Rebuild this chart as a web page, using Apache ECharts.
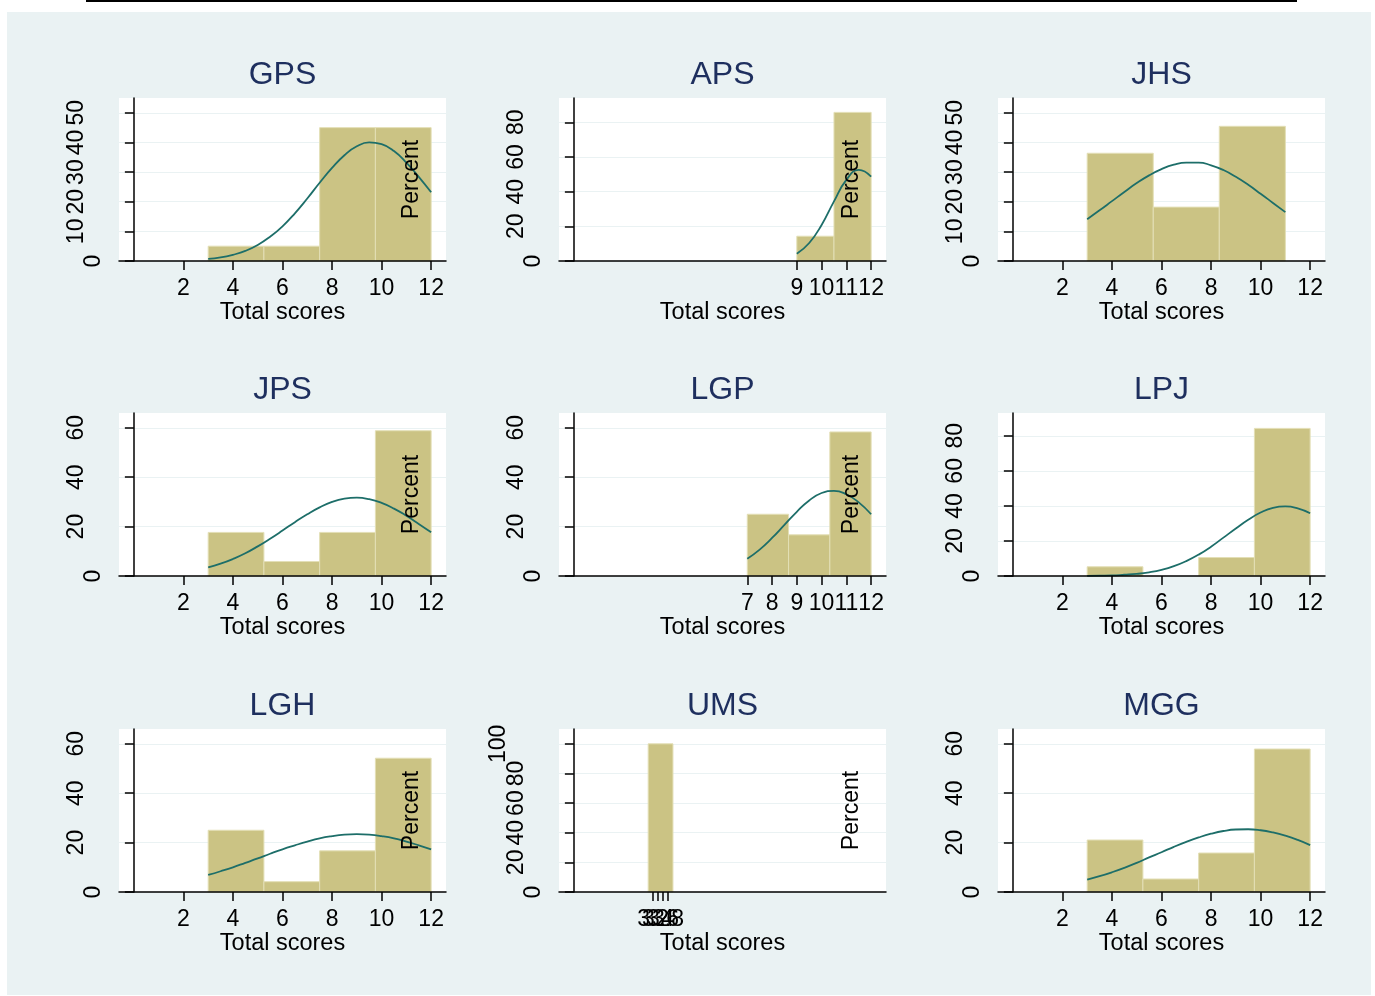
<!DOCTYPE html>
<html>
<head>
<meta charset="utf-8">
<title>Total scores by group</title>
<script src="https://cdn.jsdelivr.net/npm/echarts@6/dist/echarts.min.js"></script>
<style>
  html, body { margin: 0; padding: 0; background: #fff; }
  #chart { width: 1375px; height: 996px; }
</style>
</head>
<body>
<div id="chart"></div>
<script>
// panel names, in reading order
const panelNames = ['GPS', 'APS', 'JHS', 'JPS', 'LGP', 'LPJ', 'LGH', 'UMS', 'MGG'];

// histogram bin edges and percent per bin
const binEdges = [
  [3, 5.25, 7.5, 9.75, 12],
  [9, 10.5, 12],
  [3, 5.667, 8.333, 11],
  [3, 5.25, 7.5, 9.75, 12],
  [7, 8.667, 10.333, 12],
  [3, 5.25, 7.5, 9.75, 12],
  [3, 5.25, 7.5, 9.75, 12],
  [3, 4],
  [3, 5.25, 7.5, 9.75, 12]
];
const binPercent = [
  [5, 5, 45, 45],
  [14.29, 85.71],
  [36.36, 18.18, 45.45],
  [17.65, 5.88, 17.65, 58.82],
  [25, 16.67, 58.33],
  [5.26, 0, 10.53, 84.21],
  [25, 4.17, 16.67, 54.17],
  [100],
  [21.05, 5.26, 15.79, 57.89]
];

// normal curve overlay (UMS has none)
const xHalf3to12 = [3, 3.5, 4, 4.5, 5, 5.5, 6, 6.5, 7, 7.5, 8, 8.5, 9, 9.5, 10, 10.5, 11, 11.5, 12];
const curveX = [
  xHalf3to12,
  [9, 9.5, 10, 10.5, 11, 11.5, 12],
  [3, 3.5, 4, 4.5, 5, 5.5, 6, 6.5, 7, 7.5, 8, 8.5, 9, 9.5, 10, 10.5, 11],
  xHalf3to12,
  [7, 7.5, 8, 8.5, 9, 9.5, 10, 10.5, 11, 11.5, 12],
  xHalf3to12,
  xHalf3to12,
  [],
  xHalf3to12
];
const curveY = [
  [0.7, 1.2, 2.1, 3.4, 5.4, 8.2, 11.7, 16.1, 21.1, 26.4, 31.4, 35.7, 38.7, 40, 39.4, 37.1, 33.2, 28.4, 23.2],
  [4.2, 10.4, 20.8, 34.4, 46.8, 52.5, 48.6],
  [14.1, 17.1, 20.2, 23.3, 26.3, 28.9, 31, 32.5, 33.2, 33.2, 32.3, 30.7, 28.4, 25.7, 22.7, 19.6, 16.5],
  [3.5, 5, 6.9, 9.2, 12, 15.1, 18.4, 21.8, 25, 27.8, 30, 31.3, 31.7, 31.1, 29.6, 27.3, 24.4, 21.1, 17.7],
  [7, 10.7, 15.4, 20.7, 26, 30.6, 33.6, 34.5, 33.1, 29.8, 25],
  [0.1, 0.2, 0.3, 0.7, 1.2, 2.1, 3.5, 5.6, 8.5, 12.2, 16.7, 21.9, 27.1, 32.1, 36.2, 38.9, 39.7, 38.6, 35.8],
  [6.9, 8.4, 10, 11.8, 13.6, 15.5, 17.3, 18.9, 20.4, 21.7, 22.6, 23.2, 23.4, 23.2, 22.6, 21.7, 20.4, 18.9, 17.3],
  [],
  [5, 6.4, 8, 9.8, 11.8, 14, 16.1, 18.3, 20.3, 22.1, 23.6, 24.7, 25.3, 25.4, 25, 24.1, 22.8, 21.1, 19]
];

// axis ticks
const xTicks = [
  [2, 4, 6, 8, 10, 12],
  [9, 10, 11, 12],
  [2, 4, 6, 8, 10, 12],
  [2, 4, 6, 8, 10, 12],
  [7, 8, 9, 10, 11, 12],
  [2, 4, 6, 8, 10, 12],
  [2, 4, 6, 8, 10, 12],
  [3, 3.2, 3.4, 3.6, 3.8, 4],
  [2, 4, 6, 8, 10, 12]
];
const yTicks = [
  [0, 10, 20, 30, 40, 50],
  [0, 20, 40, 60, 80],
  [0, 10, 20, 30, 40, 50],
  [0, 20, 40, 60],
  [0, 20, 40, 60],
  [0, 20, 40, 60, 80],
  [0, 20, 40, 60],
  [0, 20, 40, 60, 80, 100],
  [0, 20, 40, 60]
];
const yMax = [55, 94, 55, 66, 66, 93, 66, 110, 66];
const xMin = -0.6, xMax = 12.6;

const font = "'Liberation Sans', Arial, Helvetica, sans-serif";
const colLeft = [119, 559, 998];
const rowTop = [98, 413, 729];
const plotW = 327, plotH = 163;
const barColor = '#cbc384';
const barEdge = '#e3dfb6';
const curveColor = '#1d6e69';
const axisStyle = { color: '#000', width: 1.5 };

const chart = echarts.init(document.getElementById('chart'));

const grids = [], xAxes = [], yAxes = [], extraY = [], series = [];
const graphics = [
  { type: 'rect', z: -100, silent: true, shape: { x: 7, y: 12, width: 1364, height: 983 }, style: { fill: '#eaf2f3' } },
  { type: 'line', silent: true, shape: { x1: 86, y1: 1, x2: 1297, y2: 1 }, style: { stroke: '#000', lineWidth: 2 } }
];

// Stata pushes longer rotated labels further from the axis
const digitRich = {
  d1: { fontSize: 23, fontFamily: font, color: '#000' },
  d2: { fontSize: 23, fontFamily: font, color: '#000', padding: [0, 0, 17, 0] },
  d3: { fontSize: 23, fontFamily: font, color: '#000', padding: [0, 0, 35, 0] }
};
function yLabel(values) {
  return {
    customValues: values, rotate: 90, margin: 14, hideOverlap: false,
    fontSize: 23, fontFamily: font, color: '#000',
    formatter: function (v) { const s = String(v); return '{d' + s.length + '|' + s + '}'; },
    rich: digitRich
  };
}

panelNames.forEach(function (name, i) {
  const c = i % 3, r = Math.floor(i / 3);
  const left = colLeft[c], top = rowTop[r];

  grids.push({ left: left, top: top, width: plotW, height: plotH, show: true, backgroundColor: '#fff', borderWidth: 0 });

  xAxes.push({
    type: 'value', gridIndex: i, min: xMin, max: xMax, z: 5,
    axisLine: { show: true, onZero: false, lineStyle: axisStyle },
    axisTick: { show: true, length: 9, customValues: xTicks[i], lineStyle: axisStyle },
    axisLabel: { customValues: xTicks[i], fontSize: 23, fontFamily: font, color: '#000', margin: 16, hideOverlap: false },
    splitLine: { show: false },
    name: 'Total scores', nameLocation: 'middle', nameGap: 39,
    nameTextStyle: { fontSize: 23.5, fontFamily: font, color: '#000' }
  });

  // a 3-digit top label would be dropped as overlapping, so it goes on its own axis
  const ticks = yTicks[i];
  const longLabels = ticks.filter(function (v) { return String(v).length > 2; });
  const mainLabels = ticks.filter(function (v) { return String(v).length <= 2; });

  yAxes.push({
    type: 'value', gridIndex: i, min: 0, max: yMax[i],
    axisLine: { show: true, lineStyle: axisStyle },
    axisTick: { show: true, length: 9, customValues: ticks, lineStyle: axisStyle },
    axisLabel: yLabel(mainLabels),
    splitLine: { show: true, lineStyle: { color: '#eaf2f3', width: 1 } }
  });
  if (longLabels.length) {
    extraY.push({
      type: 'value', gridIndex: i, position: 'left', min: 0, max: yMax[i],
      axisLine: { show: false }, axisTick: { show: false }, splitLine: { show: false },
      axisLabel: yLabel(longLabels)
    });
  }

  const bins = [];
  binPercent[i].forEach(function (p, k) {
    if (p > 0) bins.push([binEdges[i][k], binEdges[i][k + 1], p]);
  });
  series.push({
    type: 'custom', xAxisIndex: i, yAxisIndex: i, z: 2, silent: true,
    data: bins,
    encode: { x: [0, 1], y: 2 },
    renderItem: function (params, api) {
      const p0 = api.coord([api.value(0), 0]);
      const p1 = api.coord([api.value(1), api.value(2)]);
      return {
        type: 'rect',
        shape: { x: p0[0], y: p1[1], width: p1[0] - p0[0], height: p0[1] - p1[1] },
        style: { fill: barColor, stroke: barEdge, lineWidth: 1 }
      };
    }
  });

  if (curveX[i].length) {
    series.push({
      type: 'line', xAxisIndex: i, yAxisIndex: i, z: 4, silent: true,
      data: curveX[i].map(function (x, k) { return [x, curveY[i][k]]; }),
      smooth: true, symbol: 'none',
      lineStyle: { color: curveColor, width: 1.8 }
    });
  }

  graphics.push({
    type: 'text', x: left + plotW / 2, y: top - 23, silent: true,
    style: { text: name, fontSize: 32, fontFamily: font, fill: '#1e2f5e',
      align: 'center', verticalAlign: 'middle', textAlign: 'center', textVerticalAlign: 'middle' }
  });

  if (c < 2) {
    graphics.push({
      type: 'text', x: left + plotW - 34, y: top + plotH / 2, rotation: Math.PI / 2, z: 10, silent: true,
      style: { text: 'Percent', fontSize: 23, fontFamily: font, fill: '#000',
        align: 'center', verticalAlign: 'middle', textAlign: 'center', textVerticalAlign: 'middle' }
    });
  }
});

chart.setOption({
  animation: false,
  backgroundColor: '#fff',
  grid: grids,
  xAxis: xAxes,
  yAxis: yAxes.concat(extraY),
  series: series,
  graphic: { elements: graphics }
});
</script>
</body>
</html>
